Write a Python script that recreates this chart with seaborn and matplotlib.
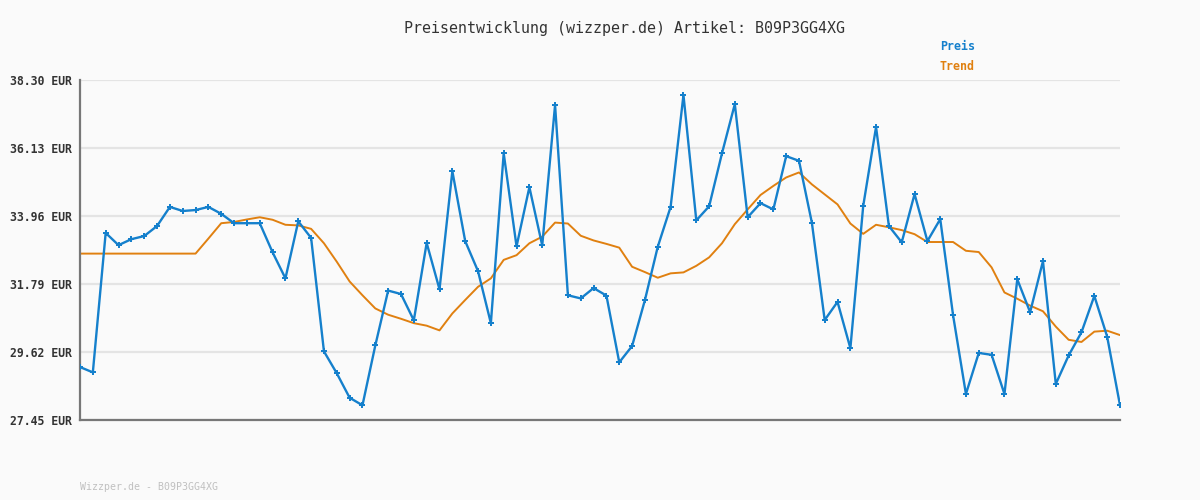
import pandas as pd
import matplotlib
matplotlib.use('agg')
import matplotlib.pyplot as plt
import seaborn as sns

preis = [29.14, 28.97, 33.42, 33.03, 33.22, 33.32, 33.64, 34.25, 34.12, 34.15,
         34.25, 34.03, 33.73, 33.73, 33.73, 32.80, 31.97, 33.79, 33.26, 29.64,
         28.94, 28.16, 27.92, 29.83, 31.58, 31.47, 30.63, 33.10, 31.62, 35.39,
         33.16, 32.20, 30.54, 35.96, 32.99, 34.88, 33.02, 37.50, 31.43, 31.33,
         31.66, 31.42, 29.29, 29.81, 31.28, 32.98, 34.25, 37.82, 33.82, 34.27,
         35.96, 37.53, 33.92, 34.37, 34.17, 35.87, 35.72, 33.75, 30.64, 31.22,
         29.74, 34.28, 36.80, 33.64, 33.12, 34.66, 33.16, 33.86, 30.79, 28.28,
         29.59, 29.53, 28.28, 31.94, 30.89, 32.52, 28.60, 29.51, 30.25, 31.41,
         30.11, 27.92]

trend = [32.76, 32.76, 32.76, 32.76, 32.76, 32.76, 32.76, 32.76, 32.76, 32.76,
         33.24, 33.73, 33.77, 33.85, 33.92, 33.84, 33.68, 33.66, 33.55, 33.09,
         32.50, 31.87, 31.43, 31.01, 30.81, 30.68, 30.54, 30.46, 30.31, 30.85,
         31.28, 31.70, 31.97, 32.56, 32.71, 33.09, 33.30, 33.75, 33.72, 33.33,
         33.18, 33.07, 32.95, 32.34, 32.17, 31.99, 32.13, 32.16, 32.37, 32.64,
         33.09, 33.70, 34.17, 34.63, 34.92, 35.19, 35.35, 34.97, 34.65, 34.33,
         33.72, 33.39, 33.68, 33.60, 33.51, 33.38, 33.13, 33.13, 33.13, 32.85,
         32.81, 32.32, 31.52, 31.32, 31.10, 30.92, 30.43, 30.01, 29.94, 30.27,
         30.30, 30.16]

y_ticks = [27.45, 29.62, 31.79, 33.96, 36.13, 38.30]
artikel = 'B09P3GG4XG'

blue = '#1580cc'
orange = '#e08010'

sns.set_style('white')
plt.rcParams['font.family'] = ['DejaVu Sans Mono', 'DejaVu Sans']

df = pd.DataFrame({'idx': range(len(preis)), 'preis': preis, 'trend': trend})

fig = plt.figure(figsize=(12, 5), dpi=100, facecolor='#fafafa')
ax = fig.add_axes([80/1200, 80/500, 1040/1200, 340/500])
ax.set_facecolor('#fafafa')

for v in y_ticks:
    ax.axhline(v, color='#e4e4e4', lw=1.6, zorder=0)

sns.lineplot(data=df, x='idx', y='trend', ax=ax, color=orange, lw=1.4, zorder=2)
sns.lineplot(data=df, x='idx', y='preis', ax=ax, color=blue, lw=1.7,
             marker='P', markersize=4.2, markeredgewidth=0, zorder=3)

ax.set_xlim(0, len(preis) - 1)
ax.set_ylim(y_ticks[0], y_ticks[-1])
ax.set_xticks([])
ax.set_yticks(y_ticks)
ax.set_yticklabels([f'{v:.2f} EUR' for v in y_ticks], fontsize=8.3,
                   fontweight='bold', color='#333333')
ax.tick_params(axis='y', length=0, pad=5.8)
ax.set_xlabel('')
ax.set_ylabel('')

for side in ['top', 'right']:
    ax.spines[side].set_visible(False)
for side in ['left', 'bottom']:
    ax.spines[side].set_color('#777777')
    ax.spines[side].set_linewidth(1.6)

fig.text(624/1200, 1 - 28/500, f'Preisentwicklung (wizzper.de) Artikel: {artikel}',
         ha='center', va='center', fontsize=10.8, color='#333333')
fig.text(940/1200, 1 - 47/500, 'Preis', ha='left', va='center',
         fontsize=8.4, fontweight='bold', color=blue)
fig.text(940/1200, 1 - 67/500, 'Trend', ha='left', va='center',
         fontsize=8.4, fontweight='bold', color=orange)
fig.text(80/1200, 1 - 487/500, f'Wizzper.de - {artikel}', ha='left', va='center',
         fontsize=7.1, color='#c0c0c0')

fig.savefig('out.png', dpi=100, facecolor=fig.get_facecolor())
